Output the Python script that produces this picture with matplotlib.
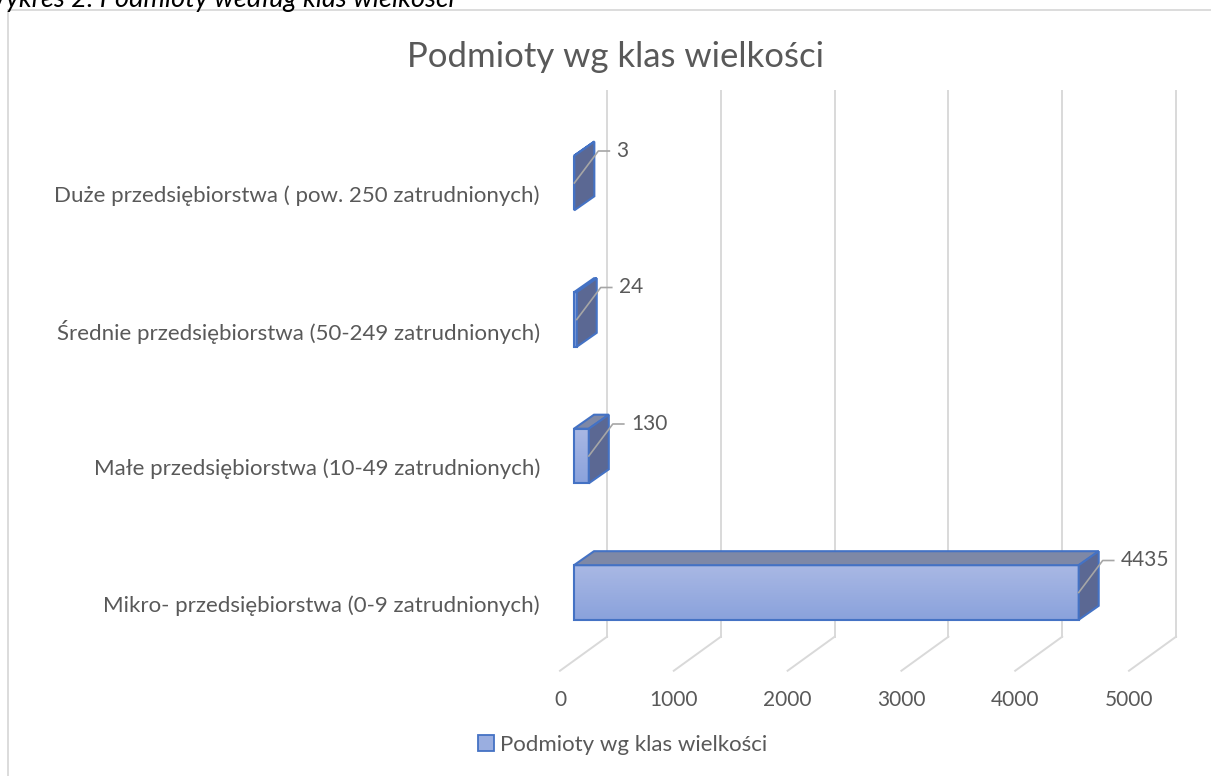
import matplotlib
matplotlib.use('Agg')
import matplotlib.pyplot as plt
import numpy as np
from matplotlib.colors import LinearSegmentedColormap
from matplotlib.patches import Polygon, Rectangle, Patch
from matplotlib.transforms import ScaledTranslation, IdentityTransform
from matplotlib.lines import Line2D

categories = [
    "Mikro- przedsiębiorstwa (0-9 zatrudnionych)",
    "Małe przedsiębiorstwa (10-49 zatrudnionych)",
    "Średnie przedsiębiorstwa (50-249 zatrudnionych)",
    "Duże przedsiębiorstwa ( pow. 250 zatrudnionych)",
]
values = [4435, 130, 24, 3]
ticks = [0, 1000, 2000, 3000, 4000, 5000]
title = "Podmioty wg klas wielkości"
series_name = "Podmioty wg klas wielkości"
caption = "Wykres 2. Podmioty według klas wielkości"

TXT = '#595959'
GRID = '#d9d9d9'
EDGE = '#4472c4'
TOP = '#7e88a6'
SIDE = '#5b6893'
BAR_H = 0.40
# 3d depth offsets in screen pixels (dx right, dy down)
BACK = (33, -24)    # bar front plane -> back wall
FRONT = (-14, 10)   # bar front plane -> floor front edge
DEPTH = (20, -14)   # bar thickness

plt.rcParams['font.family'] = ['Lato', 'DejaVu Sans']

fig = plt.figure(figsize=(12.11, 7.76), dpi=100)
ax = fig.add_axes([574 / 1211, 1 - 660.75 / 776, 569 / 1211, 546 / 776])
ax.axis('off')


def shift(dx, dy):
    return ax.transData + ScaledTranslation(dx / 100, -dy / 100, fig.dpi_scale_trans)


def px(x, y, d=(0, 0)):
    X, Y = ax.transData.transform((x, y))
    return (X + d[0], Y - d[1])


ax.set_xlim(0, 5000)
ax.set_ylim(-0.5, 3.5)

# frame around the chart
fig.add_artist(Rectangle((8 / 1211, -0.1), 1.2, 1.1 - 10 / 776, transform=fig.transFigure,
                         fill=False, edgecolor=GRID, lw=1.3))

# back wall gridlines + floor lines + tick labels
for t in ticks:
    ax.plot([t, t], [-0.5, 3.5], color=GRID, lw=1.4, transform=shift(*BACK), clip_on=False, zorder=1)
    p1 = px(t, -0.5, BACK)
    p2 = px(t, -0.5, FRONT)
    ax.add_line(Line2D([p1[0], p2[0]], [p1[1], p2[1]], color=GRID, lw=1.4,
                       transform=IdentityTransform(), zorder=1, clip_on=False))
    ax.text(t, -0.5, str(t), transform=shift(FRONT[0], 39), ha='center', va='center',
            fontsize=15, color=TXT, clip_on=False)

cmap = LinearSegmentedColormap.from_list('front', ['#8aa2dc', '#a9b8e4'])
grad = np.linspace(0, 1, 64).reshape(-1, 1)

for i, (cat, v) in enumerate(zip(categories, values)):
    lo, hi = i - BAR_H / 2, i + BAR_H / 2
    # front face
    ax.imshow(grad, extent=(0, v, lo, hi), origin='lower', aspect='auto', cmap=cmap,
              zorder=3, clip_on=False, interpolation='bilinear')
    ax.add_patch(Rectangle((0, lo), v, hi - lo, fill=False, edgecolor=EDGE, lw=1.5,
                           zorder=4, clip_on=False))
    # top face
    top = [px(0, hi), px(v, hi), px(v, hi, DEPTH), px(0, hi, DEPTH)]
    ax.add_patch(Polygon(top, closed=True, facecolor=TOP, edgecolor=EDGE, lw=1.5,
                         transform=IdentityTransform(), zorder=4, clip_on=False))
    # end face
    side = [px(v, lo), px(v, hi), px(v, hi, DEPTH), px(v, lo, DEPTH)]
    ax.add_patch(Polygon(side, closed=True, facecolor=SIDE, edgecolor=EDGE, lw=1.5,
                         transform=IdentityTransform(), zorder=4, clip_on=False))
    # category label
    ax.text(0, i, cat, transform=shift(-34, 13), ha='right', va='center',
            fontsize=16, color=TXT, clip_on=False)
    # data label with leader line
    a = px(v, i)
    b = px(v, i, (24, -32))
    c = px(v, i, (35, -32))
    ax.add_line(Line2D([a[0], b[0], c[0]], [a[1], b[1], c[1]], color='#a6a6a6', lw=1.2,
                       transform=IdentityTransform(), zorder=5, clip_on=False))
    ax.text(v, i, str(v), transform=shift(42, -32), ha='left', va='center',
            fontsize=15, color=TXT, clip_on=False)

fig.text(0.508, 1 - 57 / 776, title, ha='center', va='center', fontsize=25, color=TXT)
fig.text(-20 / 1211, 1 - 7 / 776, caption, ha='left', va='baseline', fontsize=19.5,
         fontstyle='italic', color='black')

fig.legend(handles=[Patch(facecolor='#9aaee0', edgecolor=EDGE, lw=1.3, label=series_name)],
           loc='center', bbox_to_anchor=(623 / 1211, 1 - 745 / 776), frameon=False,
           fontsize=16, handlelength=0.7, handleheight=0.7, handletextpad=0.3,
           labelcolor=TXT)

fig.savefig('out.png', dpi=100)
